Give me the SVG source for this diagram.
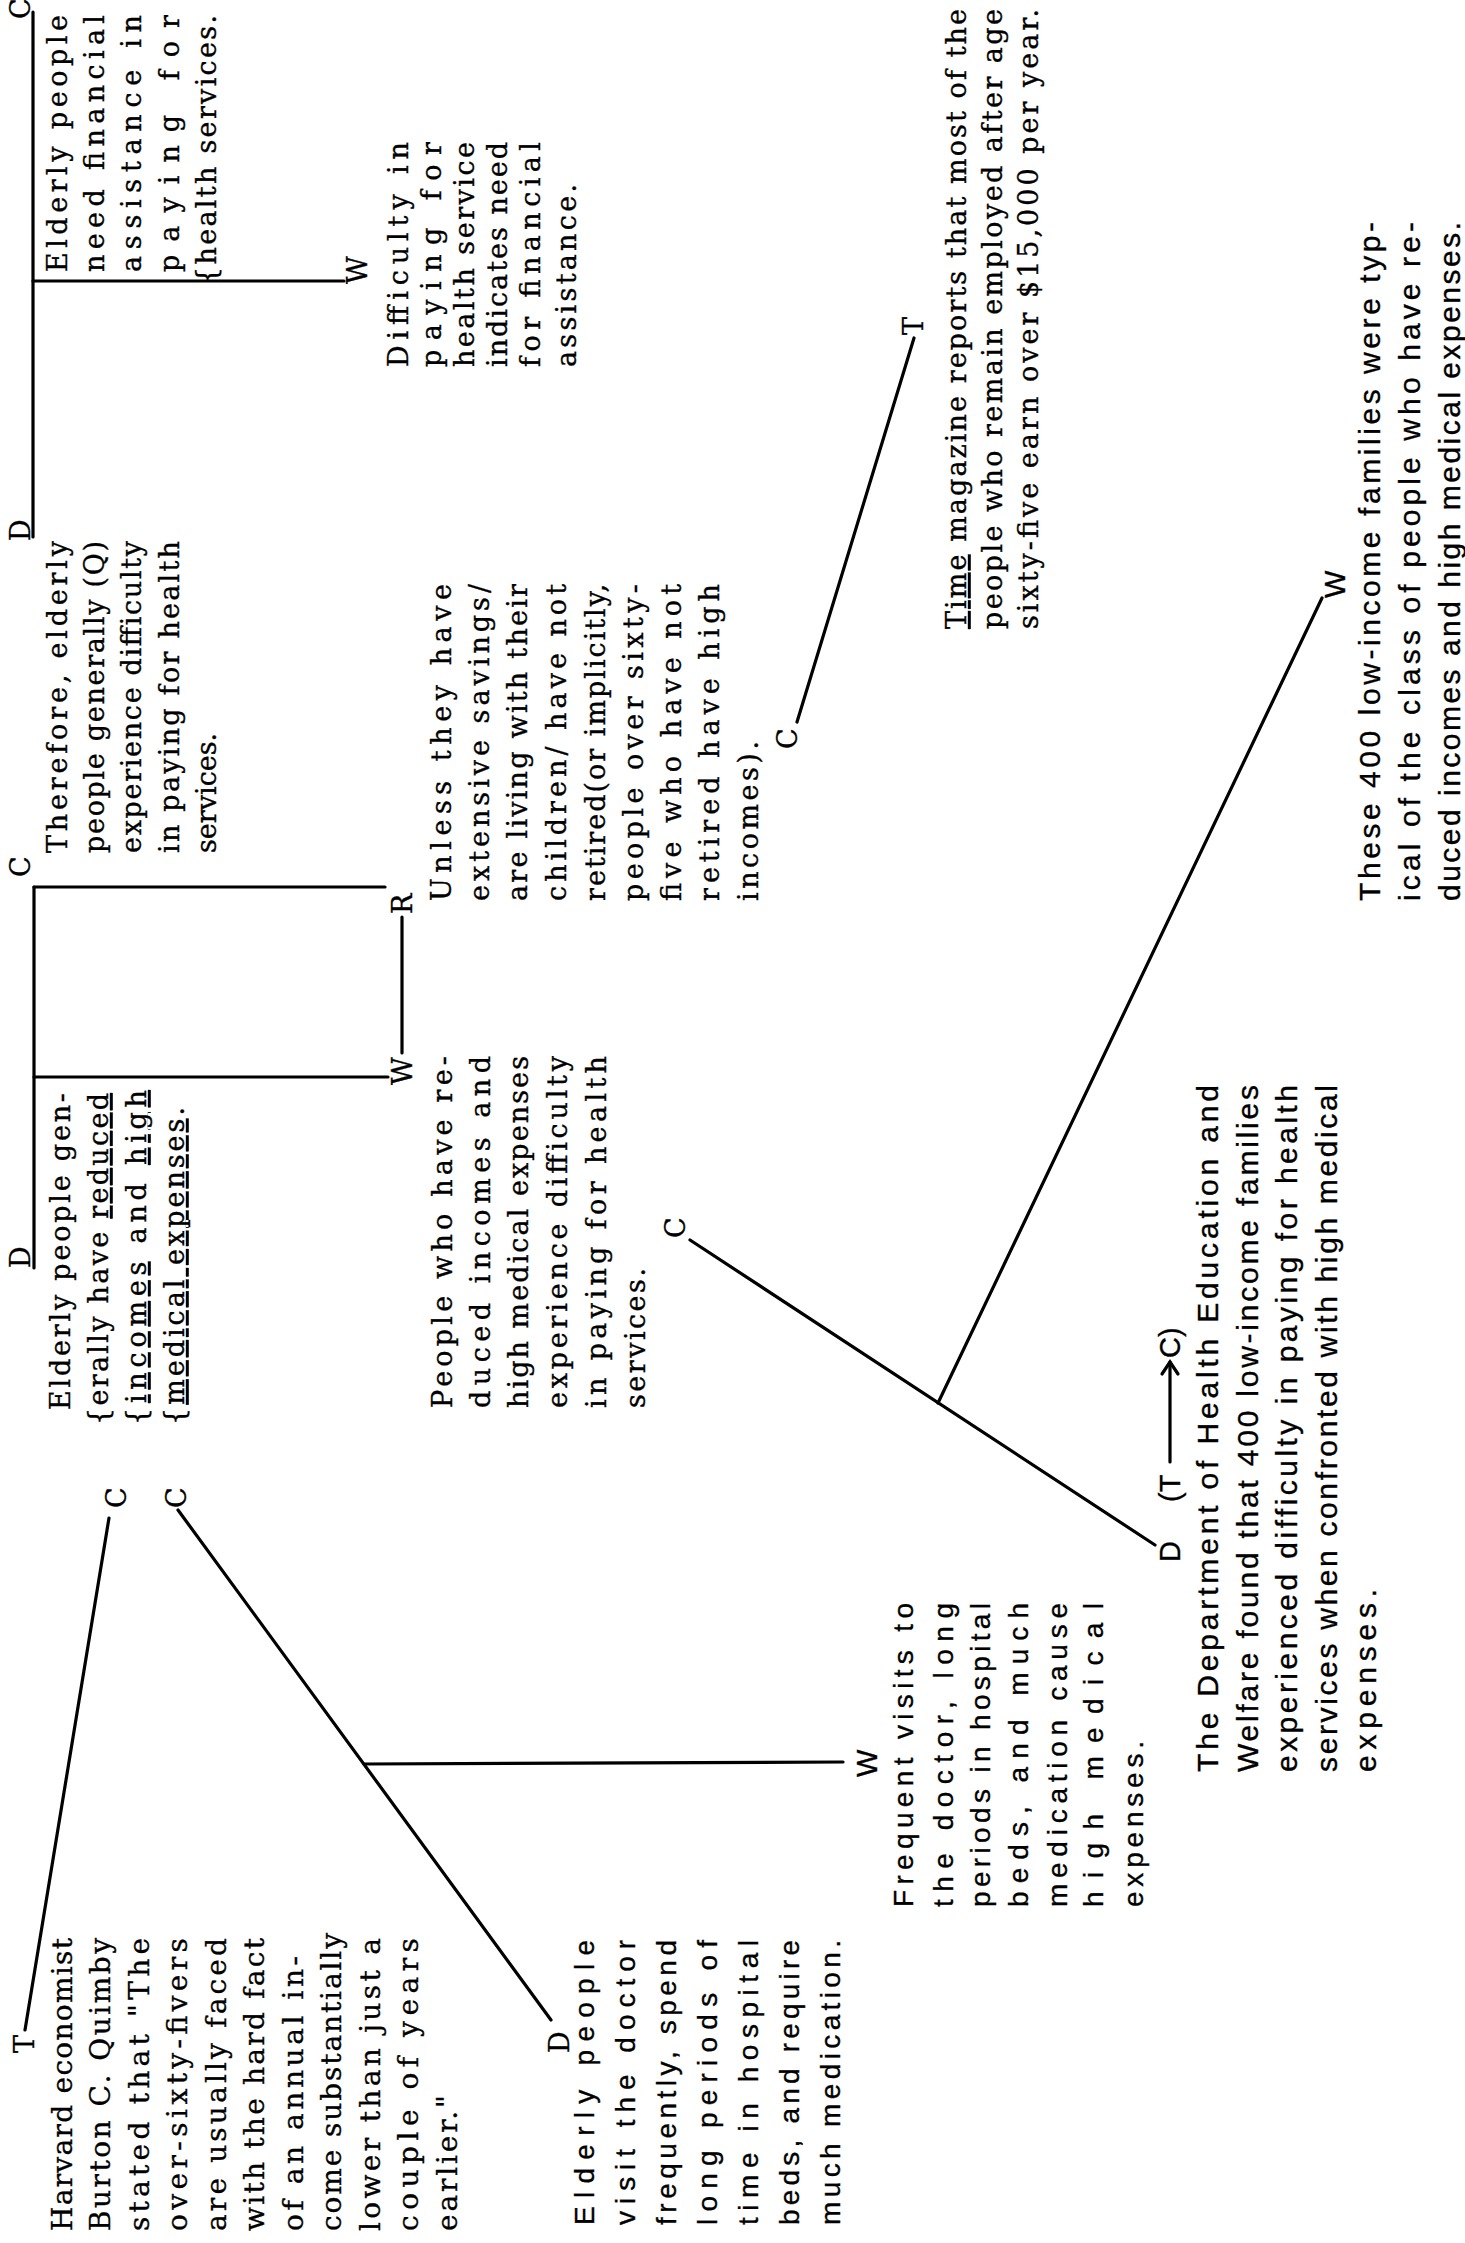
<svg xmlns="http://www.w3.org/2000/svg" width="1465" height="2243" viewBox="0 0 1465 2243">
<style>
text{stroke:#000;stroke-width:0.35}
.s{font-family:'DejaVu Serif',serif;font-size:27px;fill:#000}
.a{font-family:'DejaVu Serif',serif;font-size:28px;fill:#000}
.t{font-family:'DejaVu Serif',serif;font-size:27px;fill:#000}
.g{font-family:'Liberation Sans',Arial,sans-serif;font-size:28px;fill:#000}
.h{font-family:'Liberation Sans',Arial,sans-serif;font-size:30px;fill:#000}
.l{font-family:'DejaVu Serif',serif;font-size:27px;fill:#000}
.ls{font-family:'Liberation Sans',Arial,sans-serif;font-size:29px;fill:#000}
.u{text-decoration:underline}
.c line,.c polyline{stroke:#000;stroke-width:3.2;fill:none;stroke-linecap:round}
</style>
<rect width="1465" height="2243" fill="#fff"/>
<g class="c" id="connectors">
<line x1="33" y1="12" x2="33" y2="537"/>
<line x1="33" y1="281" x2="344" y2="281"/>
<line x1="34" y1="887" x2="34" y2="1268"/>
<line x1="34" y1="887" x2="385" y2="887"/>
<line x1="34" y1="1077" x2="388" y2="1077"/>
<line x1="402" y1="917" x2="402" y2="1053"/>
<line x1="25" y1="2030" x2="109" y2="1518"/>
<line x1="178" y1="1510" x2="551" y2="2020"/>
<line x1="364" y1="1764" x2="843" y2="1762"/>
<line x1="797" y1="722" x2="914" y2="338"/>
<line x1="690" y1="1240" x2="1155" y2="1545"/>
<line x1="938" y1="1403" x2="1322" y2="598"/>
<line x1="1170" y1="1462" x2="1170" y2="1362" stroke-width="2.5"/>
<polyline points="1162,1374 1170,1362 1178,1374" stroke-width="2.5"/>
</g>
<g id="labels" transform="rotate(-90)">
<text class="l" x="-19" y="30">C</text>
<text class="l" x="-541" y="30">D</text>
<text class="l" x="-284" y="367">W</text>
<text class="l" x="-877" y="30">C</text>
<text class="l" x="-1268" y="30">D</text>
<text class="l" x="-914" y="412">R</text>
<text class="l" x="-1085" y="412">W</text>
<text class="l" x="-2053" y="34">T</text>
<text class="l" x="-1508" y="126">C</text>
<text class="l" x="-1508" y="186">C</text>
<text class="l" x="-2053" y="569">D</text>
<text class="ls" x="-1777" y="877">W</text>
<text class="l" x="-749" y="797">C</text>
<text class="l" x="-335" y="923">T</text>
<text class="l" x="-1238" y="685">C</text>
<text class="ls" x="-1562" y="1180">D</text>
<text class="ls" x="-1502" y="1180">(T</text>
<text class="ls" x="-1358" y="1180">C)</text>
<text class="ls" x="-598" y="1345">W</text>
</g>
<g id="n-claim-top" transform="rotate(-90)">
<text class="s" x="-272" y="67" textLength="257">Elderly people</text>
<text class="s" x="-272" y="104" textLength="257">need financial</text>
<text class="s" x="-272" y="141" textLength="257">assistance in</text>
<text class="s" x="-272" y="179" textLength="257">paying for</text>
<text class="s" x="-284" y="216" textLength="269">{health services.</text>
</g>
<g id="n-warrant-top" transform="rotate(-90)">
<text class="s" x="-367" y="408" textLength="225">Difficulty in</text>
<text class="s" x="-367" y="441" textLength="225">paying for</text>
<text class="s" x="-367" y="474" textLength="225">health service</text>
<text class="s" x="-367" y="507" textLength="225">indicates need</text>
<text class="s" x="-367" y="540" textLength="225">for financial</text>
<text class="s" x="-367" y="576" textLength="183">assistance.</text>
</g>
<g id="n-therefore" transform="rotate(-90)">
<text class="s" x="-853" y="67" textLength="312">Therefore, elderly</text>
<text class="s" x="-853" y="104" textLength="312">people generally (Q)</text>
<text class="s" x="-853" y="141" textLength="312">experience difficulty</text>
<text class="s" x="-853" y="179" textLength="312">in paying for health</text>
<text class="s" x="-853" y="216">services.</text>
</g>
<g id="n-data-mid" transform="rotate(-90)">
<text class="s" x="-1410" y="70" textLength="317">Elderly people gen-</text>
<text class="s" x="-1425" y="108" textLength="332">{erally have <tspan class="u">reduced</tspan></text>
<text class="s" x="-1425" y="146" textLength="335">{<tspan class="u">incomes</tspan> and <tspan class="u">high</tspan></text>
<text class="s" x="-1425" y="184" textLength="318">{<tspan class="u">medical expenses</tspan>.</text>
</g>
<g id="n-warrant-mid" transform="rotate(-90)">
<text class="s" x="-1408" y="452" textLength="352">People who have re-</text>
<text class="s" x="-1408" y="490" textLength="352">duced incomes and</text>
<text class="s" x="-1408" y="528" textLength="352">high medical expenses</text>
<text class="s" x="-1408" y="567" textLength="352">experience difficulty</text>
<text class="s" x="-1408" y="606" textLength="352">in paying for health</text>
<text class="s" x="-1408" y="645" textLength="140">services.</text>
</g>
<g id="n-rebuttal" transform="rotate(-90)">
<text class="s" x="-901" y="451" textLength="317">Unless they have</text>
<text class="s" x="-901" y="489" textLength="317">extensive savings/</text>
<text class="s" x="-901" y="527" textLength="317">are living with their</text>
<text class="s" x="-901" y="566" textLength="317">children/ have not</text>
<text class="s" x="-901" y="605" textLength="317">retired(or implicitly,</text>
<text class="s" x="-901" y="643" textLength="317">people over sixty-</text>
<text class="s" x="-901" y="681" textLength="317">five who have not</text>
<text class="s" x="-901" y="719" textLength="317">retired have high</text>
<text class="s" x="-901" y="758" textLength="160">incomes).</text>
</g>
<g id="n-testimony" transform="rotate(-90)">
<text class="a" x="-2231" y="72" textLength="293">Harvard economist</text>
<text class="a" x="-2231" y="110" textLength="293">Burton C. Quimby</text>
<text class="a" x="-2231" y="149" textLength="293">stated that "The</text>
<text class="a" x="-2231" y="187" textLength="293">over-sixty-fivers</text>
<text class="a" x="-2231" y="226" textLength="293">are usually faced</text>
<text class="a" x="-2231" y="264" textLength="293">with the hard fact</text>
<text class="a" x="-2231" y="303" textLength="275">of an annual in-</text>
<text class="a" x="-2231" y="341" textLength="298">come substantially</text>
<text class="a" x="-2231" y="380" textLength="293">lower than just a</text>
<text class="a" x="-2231" y="418" textLength="293">couple of years</text>
<text class="a" x="-2231" y="457" textLength="136">earlier."</text>
</g>
<g id="n-data-visits" transform="rotate(-90)">
<text class="g" x="-2225" y="594" textLength="285">Elderly people</text>
<text class="g" x="-2225" y="635" textLength="285">visit the doctor</text>
<text class="g" x="-2225" y="676" textLength="285">frequently, spend</text>
<text class="g" x="-2225" y="717" textLength="285">long periods of</text>
<text class="g" x="-2225" y="758" textLength="285">time in hospital</text>
<text class="g" x="-2225" y="799" textLength="285">beds, and require</text>
<text class="g" x="-2225" y="840" textLength="285">much medication.</text>
</g>
<g id="n-warrant-visits" transform="rotate(-90)">
<text class="g" x="-1907" y="913" textLength="304">Frequent visits to</text>
<text class="g" x="-1907" y="953" textLength="304">the doctor, long</text>
<text class="g" x="-1907" y="990" textLength="304">periods in hospital</text>
<text class="g" x="-1907" y="1028" textLength="304">beds, and much</text>
<text class="g" x="-1907" y="1067" textLength="304">medication cause</text>
<text class="g" x="-1907" y="1103" textLength="304">high medical</text>
<text class="g" x="-1907" y="1143" textLength="166">expenses.</text>
</g>
<g id="n-time" transform="rotate(-90)">
<text class="t" x="-629" y="966" textLength="620"><tspan class="u">Time</tspan> magazine reports that most of the</text>
<text class="t" x="-629" y="1002" textLength="620">people who remain employed after age</text>
<text class="t" x="-629" y="1038" textLength="620">sixty-five earn over $15,000 per year.</text>
</g>
<g id="n-dept" transform="rotate(-90)">
<text class="h" x="-1772" y="1218" textLength="687">The Department of Health Education and</text>
<text class="h" x="-1772" y="1258" textLength="687">Welfare found that 400 low-income families</text>
<text class="h" x="-1772" y="1297" textLength="687">experienced difficulty in paying for health</text>
<text class="h" x="-1772" y="1337" textLength="687">services when confronted with high medical</text>
<text class="h" x="-1772" y="1376" textLength="183">expenses.</text>
</g>
<g id="n-these" transform="rotate(-90)">
<text class="h" x="-901" y="1380" textLength="679">These 400 low-income families were typ-</text>
<text class="h" x="-901" y="1420" textLength="679">ical of the class of people who have re-</text>
<text class="h" x="-901" y="1460" textLength="679">duced incomes and high medical expenses.</text>
</g>
</svg>
